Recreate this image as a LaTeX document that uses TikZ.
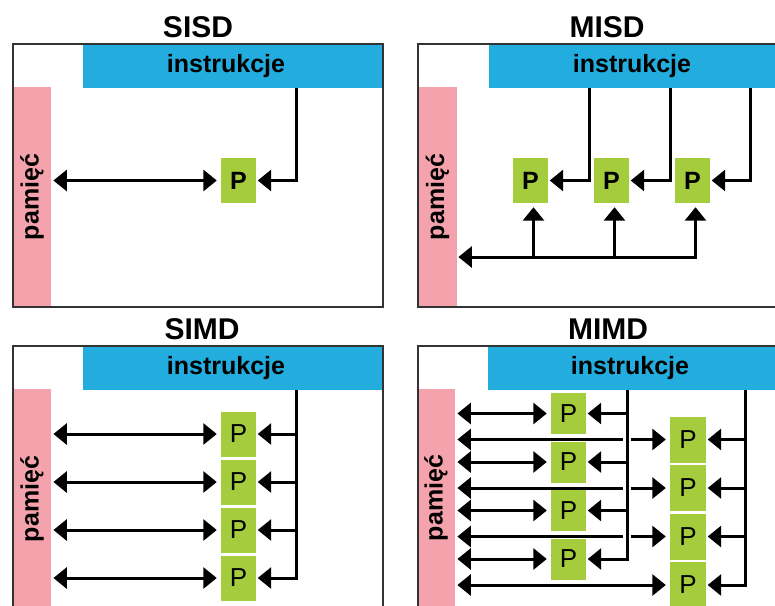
\documentclass[tikz,border=0pt]{standalone}
\usepackage{fontspec}
\setmainfont{Liberation Sans}
\usetikzlibrary{arrows.meta}
\definecolor{instrblue}{HTML}{22ADDE}
\definecolor{mempink}{HTML}{F4A2AC}
\definecolor{procgreen}{HTML}{A4CC3C}
\definecolor{framegray}{HTML}{333333}
\tikzset{
  >={Triangle[length=13.5pt,width=21pt]},
  ibar/.style={fill=instrblue, inner sep=0pt, anchor=north west,
               minimum width=300pt, minimum height=44pt},
  mbar/.style={fill=mempink, inner sep=0pt, anchor=north west, minimum height=220pt},
  itext/.style={font=\fontsize{25}{30}\selectfont\bfseries, inner sep=0pt},
  mtext/.style={font=\fontsize{25}{30}\selectfont\bfseries, rotate=90, inner sep=0pt},
  ttl/.style={font=\fontsize{30}{36}\selectfont\bfseries, inner sep=0pt},
  pbox/.style={fill=procgreen, inner sep=0pt, minimum width=35pt, minimum height=45pt,
               font=\fontsize{26}{30}\selectfont},
  pbold/.style={pbox, font=\fontsize{25}{30}\selectfont\bfseries},
  frm/.style={draw=framegray, line width=2pt},
  wire/.style={line width=3pt, draw=black},
  sgl/.style={wire, ->, shorten >=1.5pt},
  dbl/.style={wire, <->, shorten <=2pt, shorten >=4pt},
  upw/.style={wire, ->, shorten >=4pt},
  gap/.style={draw=white, line width=8pt},
}
\begin{document}
\begin{tikzpicture}[x=1pt, y=-1pt]
\useasboundingbox (0,0) rectangle (775,605);
\clip (0,0) rectangle (775,605);
\fill[white] (0,0) rectangle (775,605);

% ---------------- SISD ----------------
\node[ttl] (tA) at (198,27.5) {SISD};
\node[ibar] (iA) at (83,44) {};
\node[itext] (iAt) at (226,66) {instrukcje};
\node[mbar, minimum width=38pt] (mA) at (13,87) {};
\node[mtext] (mAt) at (32,197) {pamięć};
\node[pbold] (pA) at (238.5,180.5) {P};
\coordinate (xA) at (296,0);
\draw[dbl] (pA.west -| mA.east) -- (pA.west);
\draw[sgl] (iA.south -| xA) |- (pA.east);
\draw[frm] (13,44) rectangle (383,307);

% ---------------- MISD ----------------
\node[ttl] (tB) at (607,27.5) {MISD};
\node[ibar] (iB) at (489,44) {};
\node[itext] (iBt) at (632,66) {instrukcje};
\node[mbar, minimum width=39pt] (mB) at (418,87) {};
\node[mtext] (mBt) at (437.5,197) {pamięć};
\node[pbold] (pB1) at (530.5,180.5) {P};
\node[pbold] (pB2) at (611.5,180.5) {P};
\node[pbold] (pB3) at (692.5,180.5) {P};
\coordinate (xB1) at (589,0);
\coordinate (xB2) at (670,0);
\coordinate (xB3) at (750,0);
\coordinate (busB) at (0,257);
\foreach \k in {1,2,3}{
  \draw[sgl] (iB.south -| xB\k) |- (pB\k.east);
  \coordinate (cB\k) at ([xshift=3pt]pB\k.south);
}
\draw[wire, <->, shorten >=4pt, shorten <=1pt] (busB -| mB.east) -- (cB3 |- busB) -- (cB3);
\draw[upw] (cB1 |- busB) -- (cB1);
\draw[upw] (cB2 |- busB) -- (cB2);
\draw[frm] (418,44) rectangle (790,307);

% ---------------- SIMD ----------------
\node[ttl] (tC) at (202,329) {SIMD};
\node[ibar] (iC) at (83,346) {};
\node[itext] (iCt) at (226,368) {instrukcje};
\node[mbar, minimum width=38pt] (mC) at (13,389) {};
\node[mtext] (mCt) at (32,499) {pamięć};
\node[pbox] (pC1) at (238.5,434) {P};
\node[pbox] (pC2) at (238.5,482) {P};
\node[pbox] (pC3) at (238.5,530) {P};
\node[pbox] (pC4) at (238.5,578) {P};
\coordinate (xC) at (296,0);
\foreach \k in {1,2,3,4}{
  \draw[dbl] (pC\k.west -| mC.east) -- (pC\k.west);
}
\draw[sgl] (iC.south -| xC) |- (pC4.east);
\foreach \k in {1,2,3}{
  \draw[sgl] (pC\k.east -| xC) -- (pC\k.east);
}
\draw[frm] (13,346) rectangle (383,620);

% ---------------- MIMD ----------------
\node[ttl] (tD) at (608,329) {MIMD};
\node[ibar] (iD) at (488,346) {};
\node[itext] (iDt) at (630,368) {instrukcje};
\node[mbar, minimum width=37pt] (mD) at (418,389) {};
\node[mtext] (mDt) at (436,498) {pamięć};
% left column of processors
\node[pbox, minimum height=41pt] (pDa1) at (568.5,413.5) {P};
\node[pbox, minimum height=41pt] (pDa2) at (568.5,462) {P};
\node[pbox, minimum height=41pt] (pDa3) at (568.5,510.5) {P};
\node[pbox, minimum height=41pt] (pDa4) at (568.5,559) {P};
% right column of processors
\node[pbox, minimum width=36pt, minimum height=46pt] (pDb1) at (688,439.5) {P};
\node[pbox, minimum width=36pt, minimum height=46pt] (pDb2) at (688,488) {P};
\node[pbox, minimum width=36pt, minimum height=46pt] (pDb3) at (688,536.5) {P};
\node[pbox, minimum width=36pt, minimum height=46pt] (pDb4) at (688,585) {P};
\coordinate (xDa) at (627,0);
\coordinate (xDb) at (745,0);
\foreach \k in {1,2,3,4}{
  \draw[dbl] (pDa\k.west -| mD.east) -- (pDa\k.west);
  \draw[dbl] (pDb\k.west -| mD.east) -- (pDb\k.west);
}
% left instruction stream crosses the long memory links
\draw[gap] (iD.south -| xDa) -- (pDa4.east -| xDa);
\draw[sgl] (iD.south -| xDa) |- (pDa4.east);
\foreach \k in {1,2,3}{
  \draw[sgl] (pDa\k.east -| xDa) -- (pDa\k.east);
}
% right instruction stream
\draw[sgl] (iD.south -| xDb) |- (pDb4.east);
\foreach \k in {1,2,3}{
  \draw[sgl] (pDb\k.east -| xDb) -- (pDb\k.east);
}
\draw[frm] (418,346) rectangle (790,620);
\end{tikzpicture}
\end{document}
